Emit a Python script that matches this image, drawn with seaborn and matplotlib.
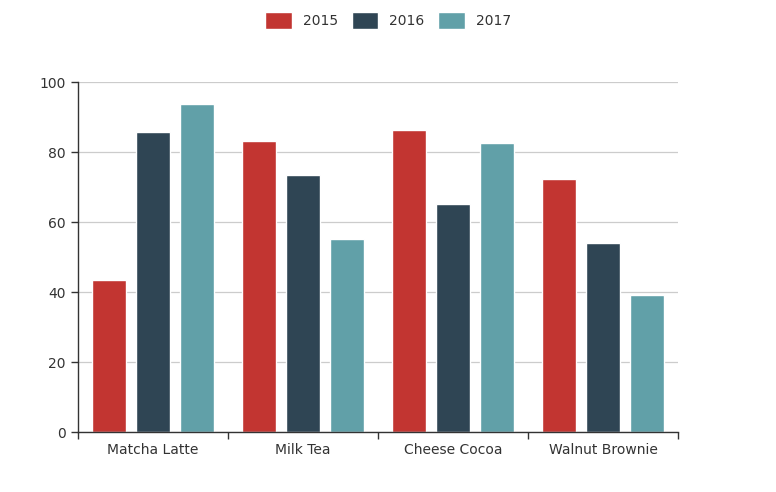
import pandas as pd
import matplotlib
matplotlib.use("Agg")
import matplotlib.pyplot as plt
import seaborn as sns

products = ["Matcha Latte", "Milk Tea", "Cheese Cocoa", "Walnut Brownie"]
years = ["2015", "2016", "2017"]
values_2015 = [43.3, 83.1, 86.4, 72.4]
values_2016 = [85.8, 73.4, 65.2, 53.9]
values_2017 = [93.7, 55.1, 82.5, 39.1]
colors = ["#c23531", "#2f4554", "#61a0a8"]

rows = []
for year, vals in zip(years, [values_2015, values_2016, values_2017]):
    for p, v in zip(products, vals):
        rows.append({"product": p, "year": year, "value": v})
df = pd.DataFrame(rows)

sns.set_style("white", {"xtick.bottom": True, "ytick.left": True})
plt.rcParams["font.family"] = ["DejaVu Sans"]
text_color = "#333333"

fig = plt.figure(figsize=(7.76, 4.92), dpi=100)
ax = fig.add_axes([78 / 776, 60 / 492, 600 / 776, 350 / 492])

sns.barplot(data=df, x="product", y="value", hue="year", palette=colors,
            width=0.88, gap=0.22, ax=ax, saturation=1, legend=True)

ax.set_ylim(0, 100)
ax.set_xlim(-0.5, 3.5)
ax.set_yticks([0, 20, 40, 60, 80, 100])
ax.yaxis.grid(True, color="#cccccc", linewidth=0.9)
ax.set_axisbelow(True)
ax.set_xlabel("")
ax.set_ylabel("")
for s in ["top", "right"]:
    ax.spines[s].set_visible(False)
for s in ["left", "bottom"]:
    ax.spines[s].set_color(text_color)
    ax.spines[s].set_linewidth(1)

ax.tick_params(axis="x", which="major", bottom=True, length=0, pad=8,
               labelsize=10, labelcolor=text_color)
ax.set_xticks([-0.5, 0.5, 1.5, 2.5, 3.5], minor=True)
ax.tick_params(axis="x", which="minor", bottom=True, length=5, color=text_color, width=1)
ax.tick_params(axis="y", left=True, length=5, color=text_color, width=1, pad=4,
               labelsize=10, labelcolor=text_color)

# figure-level legend across the top, like the original
handles, labels = ax.get_legend_handles_labels()
ax.legend_.remove()
fig.legend(handles, labels, loc="upper center", bbox_to_anchor=(0.5, 1.0), ncol=3,
           frameon=False, fontsize=10, handlelength=1.9, handleheight=1.45,
           handletextpad=0.8, columnspacing=1.0, labelcolor=text_color)

fig.savefig("out.png", dpi=100)
